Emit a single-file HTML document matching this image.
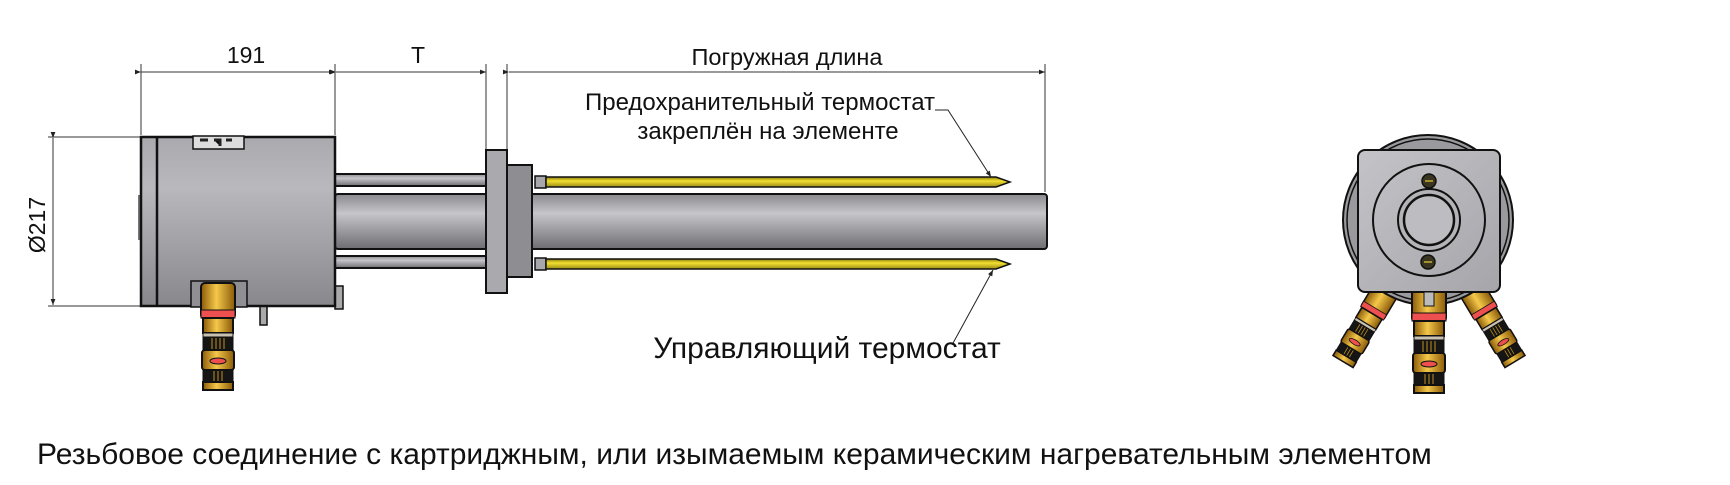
<!DOCTYPE html>
<html><head><meta charset="utf-8"><style>
html,body{margin:0;padding:0;background:#fff;width:1730px;height:485px;overflow:hidden}
svg{display:block}
text{font-family:"Liberation Sans",Arial,sans-serif;fill:#111}
</style></head><body>
<svg width="1730" height="485" viewBox="0 0 1730 485" xmlns="http://www.w3.org/2000/svg">
<defs>
<linearGradient id="gb" x1="0" y1="0" x2="0" y2="1">
<stop offset="0" stop-color="#a9a9ae"/><stop offset="0.3" stop-color="#b9b9bd"/><stop offset="1" stop-color="#88888c"/></linearGradient>
<linearGradient id="gt" x1="0" y1="0" x2="0" y2="1">
<stop offset="0" stop-color="#8a8a8e"/><stop offset="0.35" stop-color="#c6c6ca"/><stop offset="1" stop-color="#6e6e72"/></linearGradient>
<linearGradient id="gy" x1="0" y1="0" x2="0" y2="1">
<stop offset="0" stop-color="#8a7a10"/><stop offset="0.4" stop-color="#f2e030"/><stop offset="1" stop-color="#9a8a18"/></linearGradient>
<linearGradient id="gg" x1="0" y1="0" x2="1" y2="0">
<stop offset="0" stop-color="#8a5a08"/><stop offset="0.45" stop-color="#f5c84a"/><stop offset="1" stop-color="#8a5a08"/></linearGradient>
<linearGradient id="gs" x1="0" y1="0" x2="1" y2="1">
<stop offset="0" stop-color="#c4c4c8"/><stop offset="1" stop-color="#a6a6aa"/></linearGradient>
<marker id="ar" viewBox="0 0 10 10" refX="10" refY="5" markerWidth="8" markerHeight="6" orient="auto"><path d="M0,1 L10,5 L0,9 z" fill="#222"/></marker>
<g id="conn">
<rect x="-17" y="0" width="34" height="36" rx="4" fill="url(#gg)" stroke="#111" stroke-width="2"/>
<rect x="-17" y="27" width="34" height="8" fill="#ee5050" stroke="#111" stroke-width="1"/>
<rect x="-15" y="35" width="30" height="15" fill="url(#gg)" stroke="#111" stroke-width="2"/>
<rect x="-15" y="50" width="30" height="4" fill="#c8c0b0" stroke="#111" stroke-width="1"/>
<rect x="-15" y="54" width="30" height="13" fill="#151515" stroke="#111" stroke-width="1"/>
<path d="M-6,55v11M-2,55v11M2,55v11M6,55v11" stroke="#c09020" stroke-width="1"/>
<rect x="-16" y="67" width="32" height="20" rx="3" fill="url(#gg)" stroke="#111" stroke-width="2"/>
<ellipse cx="0" cy="78" rx="8" ry="3" fill="#ee5050" stroke="#111"/>
<rect x="-15" y="87" width="30" height="12" fill="#151515" stroke="#111" stroke-width="1"/>
<path d="M-4,88v10M0,88v10M4,88v10" stroke="#c09020" stroke-width="1"/>
<rect x="-15" y="99" width="30" height="8" fill="url(#gg)" stroke="#111" stroke-width="2"/>
</g>
</defs>

<!-- dimension lines -->
<g stroke="#333" stroke-width="1" fill="none">
<line x1="141" y1="64" x2="141" y2="135"/><line x1="335" y1="64" x2="335" y2="135"/>
<line x1="486" y1="64" x2="486" y2="150"/><line x1="507" y1="64" x2="507" y2="150"/>
<line x1="1045" y1="64" x2="1045" y2="192"/>
<line x1="141" y1="72" x2="335" y2="72" marker-start="url(#ar)" marker-end="url(#ar)"/>
<line x1="336" y1="72" x2="486" y2="72" marker-start="url(#ar)" marker-end="url(#ar)"/>
<line x1="509" y1="72" x2="1045" y2="72" marker-start="url(#ar)" marker-end="url(#ar)"/>
<line x1="48" y1="137" x2="140" y2="137"/><line x1="48" y1="306" x2="140" y2="306"/>
<line x1="53" y1="138" x2="53" y2="305" marker-start="url(#ar)" marker-end="url(#ar)"/>
</g>
<text x="246" y="63" font-size="23" text-anchor="middle">191</text>
<text x="418" y="63" font-size="23" text-anchor="middle">T</text>
<text x="787" y="65" font-size="23.5" text-anchor="middle">Погружная длина</text>
<text transform="translate(45,225) rotate(-90)" font-size="23" text-anchor="middle">Ø217</text>

<!-- rods behind -->
<rect x="335" y="174" width="152" height="12" fill="url(#gt)" stroke="#111" stroke-width="2"/>
<rect x="335" y="256" width="152" height="12" fill="url(#gt)" stroke="#111" stroke-width="2"/>
<rect x="335" y="194" width="712" height="55" rx="3" fill="url(#gt)" stroke="#111" stroke-width="2"/>
<!-- yellow rods -->
<rect x="535" y="176" width="11" height="12" fill="#a8a8ac" stroke="#111" stroke-width="1.5"/>
<rect x="535" y="258" width="11" height="12" fill="#a8a8ac" stroke="#111" stroke-width="1.5"/>
<path d="M546,177 H996 L1010,182 L996,187 H546 z" fill="url(#gy)" stroke="#111" stroke-width="1.5"/>
<path d="M546,259 H996 L1010,264 L996,269 H546 z" fill="url(#gy)" stroke="#111" stroke-width="1.5"/>
<!-- flange & nut -->
<rect x="486" y="150" width="21" height="143" fill="#a9a9ae" stroke="#111" stroke-width="2"/>
<rect x="507" y="165" width="25" height="112" fill="#8e8e92" stroke="#111" stroke-width="2"/>
<!-- body -->
<rect x="335" y="286" width="8" height="23" fill="#aaa" stroke="#111" stroke-width="1.5"/>
<rect x="260" y="304" width="7" height="21" fill="#aaa" stroke="#111" stroke-width="1.5"/>
<rect x="138" y="195" width="5" height="45" fill="#777"/>
<rect x="141" y="137" width="194" height="169" fill="url(#gb)" stroke="#111" stroke-width="2.5"/>
<line x1="157" y1="137" x2="157" y2="306" stroke="#111" stroke-width="2.5"/>
<rect x="193" y="136" width="51" height="13" fill="#ddd" stroke="#111" stroke-width="1.5"/>
<path d="M200,140h8M214,140h6v6M226,140h6" stroke="#222" stroke-width="3"/>
<rect x="191" y="281" width="56" height="26" fill="#909094" stroke="#111" stroke-width="1.5"/>
<use href="#conn" x="218" y="283"/>

<!-- labels -->
<text x="760" y="110" font-size="24" text-anchor="middle">Предохранительный термостат</text>
<text x="768" y="139" font-size="24" text-anchor="middle">закреплён на элементе</text>
<path d="M935,110 H948 L991,177" stroke="#222" stroke-width="1" fill="none" marker-end="url(#ar)"/>
<path d="M952,345 L993,270" stroke="#222" stroke-width="1" fill="none" marker-end="url(#ar)"/>
<text x="827" y="358" font-size="30" text-anchor="middle">Управляющий термостат</text>
<text x="37" y="464" font-size="30">Резьбовое соединение с картриджным, или изымаемым керамическим нагревательным элементом</text>

<!-- right view -->
<g transform="translate(1386,290) rotate(31) scale(0.78)"><use href="#conn" x="0" y="0"/></g>
<g transform="translate(1472,290) rotate(-31) scale(0.78)"><use href="#conn" x="0" y="0"/></g>
<circle cx="1428" cy="220" r="85" fill="#9a9a9e" stroke="#111" stroke-width="2"/>
<circle cx="1428" cy="220" r="81" fill="none" stroke="#111" stroke-width="1.5"/>
<use href="#conn" x="1429" y="286"/>
<rect x="1358" y="150" width="142" height="142" rx="7" fill="url(#gs)" stroke="#111" stroke-width="2"/>
<rect x="1424" y="292" width="10" height="14" fill="#bbb" stroke="#111" stroke-width="1"/>
<circle cx="1429" cy="220" r="56" fill="none" stroke="#111" stroke-width="2"/>
<circle cx="1429" cy="220" r="31" fill="#b4b4b8" stroke="#111" stroke-width="2"/>
<circle cx="1429" cy="220" r="25" fill="#bdbdc1" stroke="#111" stroke-width="2.5"/>
<circle cx="1429" cy="181" r="7" fill="#3a3520" stroke="#111" stroke-width="1.5"/>
<line x1="1425" y1="181" x2="1433" y2="181" stroke="#c8b030" stroke-width="1.5"/>
<circle cx="1428" cy="262" r="7" fill="#3a3520" stroke="#111" stroke-width="1.5"/>
<line x1="1424" y1="262" x2="1432" y2="262" stroke="#c8b030" stroke-width="1.5"/>
</svg>
</body></html>
